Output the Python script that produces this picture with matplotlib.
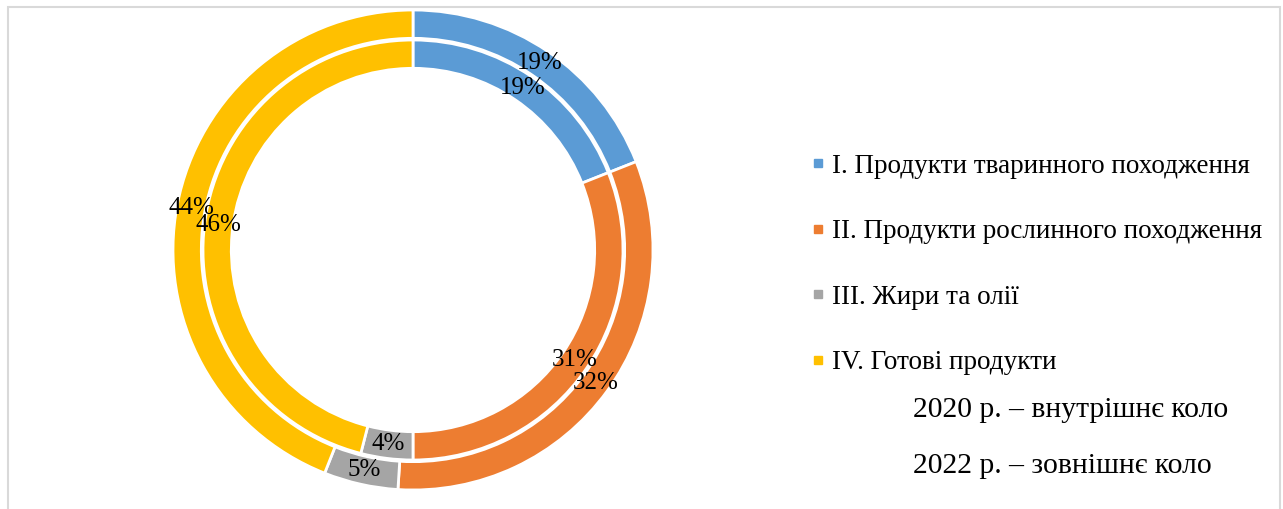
import matplotlib.pyplot as plt
from matplotlib.lines import Line2D
from matplotlib.patches import Rectangle

plt.rcParams['font.family'] = ['Liberation Serif', 'DejaVu Serif']

categories = ['I. Продукти тваринного походження',
              'II. Продукти рослинного походження',
              'III. Жири та олії',
              'IV. Готові продукти']
inner_2020 = [19, 31, 4, 46]
outer_2022 = [19, 32, 5, 44]
colors = ['#5B9BD5', '#ED7D31', '#A5A5A5', '#FFC000']

W, H = 1283, 509
fig = plt.figure(figsize=(W / 100, H / 100), dpi=100)

# light frame around the chart area (bottom edge runs off the picture)
fig.patches.append(Rectangle((8 / W, -0.02), (1280 - 8) / W, (H - 7) / H + 0.02,
                             transform=fig.transFigure, fill=False,
                             edgecolor='#D9D9D9', linewidth=1.5))

cx, cy, r = 413, 250, 240
ax = fig.add_axes([(cx - r) / W, (H - cy - r) / H, 2 * r / W, 2 * r / H])

w = 0.118
ax.pie(outer_2022, radius=1.0, colors=colors, startangle=90, counterclock=False,
       wedgeprops=dict(width=w, edgecolor='white', linewidth=2),
       autopct='%.0f%%', pctdistance=1 - w / 2,
       textprops=dict(fontsize=18, color='black'))
r_in = 0.875
ax.pie(inner_2020, radius=r_in, colors=colors, startangle=90, counterclock=False,
       wedgeprops=dict(width=w, edgecolor='white', linewidth=2),
       autopct='%.0f%%', pctdistance=(r_in - w / 2) / r_in,
       textprops=dict(fontsize=18, color='black'))
ax.set_aspect('equal')
ax.set_xlim(-1, 1)
ax.set_ylim(-1, 1)
ax.axis('off')

handles = [Line2D([], [], marker='s', linestyle='none', markersize=5.5,
                  markerfacecolor=c, markeredgecolor=c) for c in colors]
fig.legend(handles, categories, loc='upper left', bbox_to_anchor=(796 / W, 1 - 140 / H),
           frameon=False, fontsize=19.5, labelspacing=1.5, handlelength=0.6,
           handletextpad=0.22, borderpad=0)

fig.text(913 / W, 1 - 410 / H, '2020 р. – внутрішнє коло', fontsize=21.3, va='center')
fig.text(913 / W, 1 - 466 / H, '2022 р. – зовнішнє коло', fontsize=21.3, va='center')

fig.savefig('out.png', dpi=100, facecolor='white')
